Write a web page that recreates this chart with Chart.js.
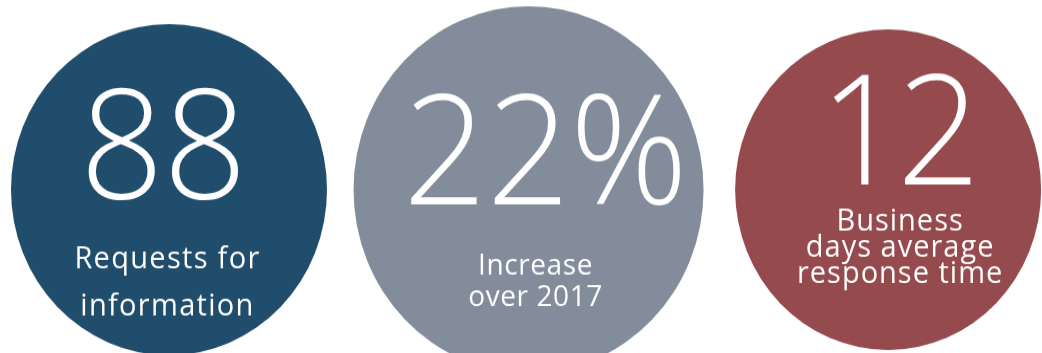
<!DOCTYPE html>
<html>
<head>
<meta charset="utf-8">
<script src="https://cdn.jsdelivr.net/npm/chart.js@4.4.1/dist/chart.umd.min.js"></script>
<style>
  html, body { margin: 0; padding: 0; background: #fff; width: 1042px; height: 353px; overflow: hidden; }
  #wrap { width: 1042px; height: 353px; position: relative; overflow: hidden; }
  /* circles are drawn slightly taller than wide */
  #stats { position: absolute; left: 0; top: 0; transform: scaleY(1.048); transform-origin: 0 0; }
</style>
</head>
<body>
<div id="wrap"><canvas id="stats" width="1042" height="337"></canvas></div>
<script>
// Headline figures, one circle each
const categories   = ["Requests", "Increase", "Response time"];
const statValues   = [88, 22, 12];
const statSuffix   = ["", "%", ""];
const captionLines = [
  ["Requests for", "information"],
  ["Increase", "over 2017"],
  ["Business", "days average", "response time"],
];

// Look of each circle
const circleColors = ["#1f4d6b", "#838c9b", "#954a4d"];
const circleRadius = [158, 175, 153];

// Big figure placement relative to each circle centre: [dx, dy, letter spacing]
const numberOffset  = [[-5.5, 9, 0], [17, 14, 0], [9, -5, -6]];
// [dx, first baseline dy, line step, font size, letter spacing]
const captionLayout = [
  [-1.5, 75, 45, 29, 1.3],
  [7, 81, 30, 28, 0.6],
  [12, 38.5, 25, 29, 1],
];

const statText = {
  id: "statText",
  afterDatasetsDraw(chart) {
    const { ctx } = chart;
    const pts = chart.getDatasetMeta(0).data;
    ctx.save();
    ctx.fillStyle = "#ffffff";
    ctx.textAlign = "center";
    ctx.textBaseline = "alphabetic";
    pts.forEach((pt, i) => {
      const [nx, ny, ns] = numberOffset[i];
      ctx.letterSpacing = ns + "px";
      ctx.font = "300 146px 'Open Sans'";
      ctx.fillText(statValues[i] + statSuffix[i], pt.x + nx, pt.y + ny);

      const [cx, cy, step, size, spacing] = captionLayout[i];
      ctx.font = `400 ${size}px 'Open Sans'`;
      ctx.letterSpacing = spacing + "px";
      captionLines[i].forEach((line, j) => {
        ctx.fillText(line, pt.x + cx, pt.y + cy + j * step);
      });
    });
    ctx.restore();
  }
};

new Chart(document.getElementById("stats").getContext("2d"), {
  type: "bubble",
  data: {
    labels: categories,
    datasets: [{
      data: categories.map((c, i) => ({ x: i, y: 0 })),
      backgroundColor: circleColors,
      borderWidth: 0,
      radius: circleRadius,
      hoverRadius: 0,
      clip: false,
    }],
  },
  options: {
    responsive: false,
    animation: false,
    events: [],
    layout: { autoPadding: false, padding: { top: 25 } },
    scales: {
      x: { type: "linear", min: -0.47, max: 2.428, display: false },
      y: { type: "linear", min: -1, max: 1, display: false },
    },
    plugins: {
      legend: { display: false },
      tooltip: { enabled: false },
    },
  },
  plugins: [statText],
});
</script>
</body>
</html>
